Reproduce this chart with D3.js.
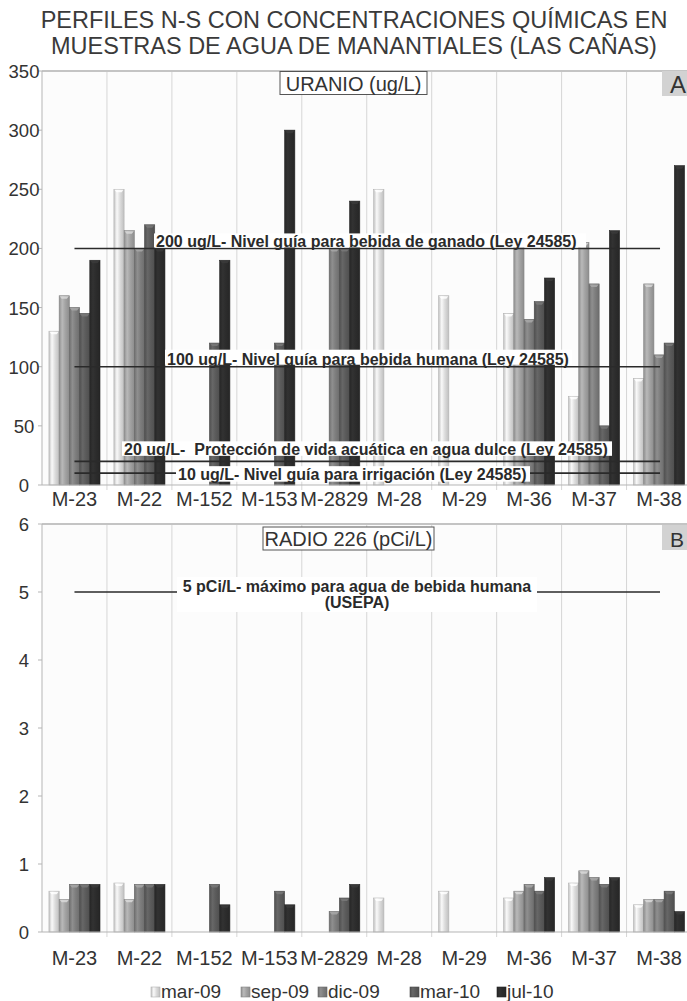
<!DOCTYPE html>
<html>
<head>
<meta charset="utf-8">
<script src="https://cdn.jsdelivr.net/npm/d3@7"></script>
<style>
  body { margin: 0; background: #fff; }
  svg { display: block; font-family: "Liberation Sans", Arial, sans-serif; }
  text { white-space: pre; }
</style>
</head>
<body>
<div id="container"></div>
<script>
/* DATA */
const categories = ["M-23", "M-22", "M-152", "M-153", "M-2829", "M-28", "M-29", "M-36", "M-37", "M-38"];
const seriesNames = ["mar-09", "sep-09", "dic-09", "mar-10", "jul-10"];

// Uranio (ug/L)
const uranioMar09 = [130, 250, null, null, null, 250, 160, 145, 75, 90];
const uranioSep09 = [160, 215, null, null, null, null, null, 205, 205, 170];
const uranioDic09 = [150, 200, null, null, 200, null, null, 140, 170, 110];
const uranioMar10 = [145, 220, 120, 120, 200, null, null, 155, 50, 120];
const uranioJul10 = [190, 200, 190, 300, 240, null, null, 175, 215, 270];

// Radio 226 (pCi/L)
const radioMar09 = [0.6, 0.72, null, null, null, 0.5, 0.6, 0.5, 0.72, 0.4];
const radioSep09 = [0.48, 0.48, null, null, null, null, null, 0.6, 0.9, 0.48];
const radioDic09 = [0.7, 0.7, null, null, 0.3, null, null, 0.7, 0.8, 0.48];
const radioMar10 = [0.7, 0.7, 0.7, 0.6, 0.5, null, null, 0.6, 0.7, 0.6];
const radioJul10 = [0.7, 0.7, 0.4, 0.4, 0.7, null, null, 0.8, 0.8, 0.3];

const uranioTicks = [0, 50, 100, 150, 200, 250, 300, 350];
const radioTicks = [0, 1, 2, 3, 4, 5, 6];

const uranioGuides = [200, 100, 20, 10];
const uranioGuideLabels = [
  "200 ug/L- Nivel guía para bebida de ganado (Ley 24585)",
  "100 ug/L- Nivel guía para bebida humana (Ley 24585)",
  "20 ug/L-  Protección de vida acuática en agua dulce (Ley 24585)",
  "10 ug/L- Nivel guía para irrigación (Ley 24585)"
];
const radioGuides = [5];
const radioGuideLabels = [["5 pCi/L- máximo para agua de bebida humana", "(USEPA)"]];

/* CONSTANTS AND GLOBALS */
const width = 687;
const height = 1001;
const colors = ["#dcdcdc", "#a3a3a3", "#7e7e7e", "#5b5b5b", "#2c2c2c"];

// white label boxes behind the guide texts (offsets from the guide line)
const uranioLabelLayout = [
  { x0: 154, x1: 586, tx: 156, top: -15, h: 14, base: -1.5 },
  { x0: 165, x1: 572, tx: 167, top: -17, h: 15, base: -2 },
  { x0: 122, x1: 612, tx: 124, top: -20, h: 14.5, base: -6.5 },
  { x0: 176, x1: 530, tx: 178, top: -7, h: 15.5, base: 6.5 }
];
const legendX = [151, 241, 318, 410, 497];

const svg = d3.select("#container")
  .append("svg")
  .attr("width", width)
  .attr("height", height);

const defs = svg.append("defs");
colors.forEach((c, i) => {
  const g = defs.append("linearGradient")
    .attr("id", "grad" + i)
    .attr("x1", 0).attr("x2", 1).attr("y1", 0).attr("y2", 0);
  const base = d3.color(c);
  g.append("stop").attr("offset", "0%").attr("stop-color", base.darker(0.35));
  g.append("stop").attr("offset", "30%").attr("stop-color", base.brighter(0.35));
  g.append("stop").attr("offset", "60%").attr("stop-color", base);
  g.append("stop").attr("offset", "100%").attr("stop-color", base.darker(0.4));
});

/* TITLE */
const title = svg.append("g")
  .attr("font-size", 23.5)
  .attr("fill", "#3a3a3a")
  .attr("text-anchor", "middle");
title.append("text").attr("x", 354).attr("y", 28)
  .text("PERFILES N-S CON CONCENTRACIONES QUÍMICAS EN");
title.append("text").attr("x", 354).attr("y", 54)
  .text("MUESTRAS DE AGUA DE MANANTIALES (LAS CAÑAS)");

/* CHART BUILDER */
function drawChart(opts) {
  const { top, bottom, domainMax, ticks, seriesData, boxText, boxX, boxW, letter } = opts;

  const xScale = d3.scaleBand()
    .domain(categories)
    .range([42, 691.5]);

  const xSub = d3.scaleBand()
    .domain(seriesNames)
    .range([0, xScale.bandwidth()])
    .paddingOuter(0.68);

  const yScale = d3.scaleLinear()
    .domain([0, domainMax])
    .range([bottom, top]);

  const g = svg.append("g");

  // plot background
  g.append("rect")
    .attr("x", 42).attr("y", top)
    .attr("width", width - 42).attr("height", bottom - top)
    .attr("fill", "#fcfcfc");

  // category gridlines
  g.selectAll("line.grid")
    .data(categories.slice(1))
    .join("line")
    .attr("class", "grid")
    .attr("x1", d => xScale(d)).attr("x2", d => xScale(d))
    .attr("y1", top).attr("y2", bottom + 5)
    .attr("stroke", "#d6d6d6")
    .attr("stroke-width", 1);

  // top border
  g.append("line")
    .attr("x1", 42).attr("x2", width)
    .attr("y1", top).attr("y2", top)
    .attr("stroke", "#c4c4c4").attr("stroke-width", 2);

  // bars
  const flat = [];
  categories.forEach((c, ci) => {
    seriesNames.forEach((s, si) => {
      const v = seriesData[si][ci];
      if (v != null) flat.push({ cat: c, series: s, si, value: v });
    });
  });

  const bars = g.selectAll("g.bar")
    .data(flat)
    .join("g")
    .attr("class", "bar");

  bars.append("rect")
    .attr("x", d => xScale(d.cat) + xSub(d.series))
    .attr("y", d => yScale(d.value))
    .attr("width", xSub.bandwidth())
    .attr("height", d => yScale(0) - yScale(d.value))
    .attr("fill", d => `url(#grad${d.si})`)
    .attr("stroke", d => d3.color(colors[d.si]).darker(0.6))
    .attr("stroke-width", 0.6);

  // bevel on top of each bar
  bars.append("path")
    .attr("d", d => {
      const x0 = xScale(d.cat) + xSub(d.series);
      const w = xSub.bandwidth();
      const y0 = yScale(d.value);
      return `M${x0 + 0.5},${y0 + 0.5}L${x0 + w - 0.5},${y0 + 0.5}L${x0 + w - 2.5},${y0 + 3}L${x0 + 2.5},${y0 + 3}Z`;
    })
    .attr("fill", d => d3.color(colors[d.si]).brighter(0.8))
    .attr("opacity", 0.85);

  // y axis
  const yAxis = g.append("g");
  yAxis.append("line")
    .attr("x1", 42).attr("x2", 42)
    .attr("y1", top).attr("y2", bottom)
    .attr("stroke", "#b5b5b5");
  yAxis.selectAll("line.tick")
    .data(ticks)
    .join("line")
    .attr("class", "tick")
    .attr("x1", 38).attr("x2", 42)
    .attr("y1", d => yScale(d)).attr("y2", d => yScale(d))
    .attr("stroke", "#b5b5b5");
  yAxis.selectAll("text")
    .data(ticks)
    .join("text")
    .attr("x", 24)
    .attr("y", d => yScale(d) + 7)
    .attr("text-anchor", "middle")
    .attr("font-size", 18.5)
    .attr("fill", "#333")
    .text(d => d);

  // x axis
  const xAxis = g.append("g");
  xAxis.append("line")
    .attr("x1", 42).attr("x2", width)
    .attr("y1", bottom).attr("y2", bottom)
    .attr("stroke", "#b5b5b5");
  xAxis.selectAll("text")
    .data(categories)
    .join("text")
    .attr("x", d => xScale(d) + xScale.bandwidth() / 2)
    .attr("y", bottom + opts.xLabelOffset)
    .attr("text-anchor", "middle")
    .attr("font-size", 20)
    .attr("fill", "#333")
    .text(d => d);

  // title box
  g.append("rect")
    .attr("x", boxX).attr("y", top + opts.boxTop)
    .attr("width", boxW).attr("height", 23)
    .attr("fill", "#fff")
    .attr("stroke", "#555").attr("stroke-width", 1);
  g.append("text")
    .attr("x", boxX + boxW / 2).attr("y", top + opts.boxTop + 19)
    .attr("text-anchor", "middle")
    .attr("font-size", 20)
    .attr("fill", "#333")
    .text(boxText);

  // panel letter
  g.append("rect")
    .attr("x", 662).attr("y", top + opts.letterTop)
    .attr("width", 30).attr("height", 25)
    .attr("fill", "#d2d2d2");
  g.append("text")
    .attr("x", 670).attr("y", top + opts.letterTop + 22)
    .attr("font-size", opts.letterSize)
    .attr("fill", "#333")
    .text(letter);

  return { xScale, yScale, g };
}

/* URANIO */
const chartA = drawChart({
  top: 71, bottom: 485, domainMax: 350, ticks: uranioTicks,
  seriesData: [uranioMar09, uranioSep09, uranioDic09, uranioMar10, uranioJul10],
  boxText: "URANIO (ug/L)", boxX: 280, boxW: 147, boxTop: 0.5,
  letter: "A", letterTop: 0, letterSize: 24, xLabelOffset: 21
});

const xLineStart = chartA.xScale(categories[0]) + chartA.xScale.bandwidth() / 2;
const xLineEnd = chartA.xScale(categories[categories.length - 1]) + chartA.xScale.bandwidth() / 2 + 1;

uranioGuides.forEach((v, i) => {
  const y = chartA.yScale(v);
  const L = uranioLabelLayout[i];
  chartA.g.append("line")
    .attr("x1", xLineStart).attr("x2", xLineEnd)
    .attr("y1", y).attr("y2", y)
    .attr("stroke", "#2a2a2a").attr("stroke-width", 1.6);
  chartA.g.append("rect")
    .attr("x", L.x0).attr("y", y + L.top)
    .attr("width", L.x1 - L.x0).attr("height", L.h)
    .attr("fill", "#fff");
  chartA.g.append("text")
    .attr("x", L.tx).attr("y", y + L.base)
    .attr("font-size", 16)
    .attr("font-weight", "bold")
    .attr("fill", "#2a2a2a")
    .text(uranioGuideLabels[i]);
});

/* RADIO 226 */
const chartB = drawChart({
  top: 524, bottom: 932, domainMax: 6, ticks: radioTicks,
  seriesData: [radioMar09, radioSep09, radioDic09, radioMar10, radioJul10],
  boxText: "RADIO 226 (pCi/L)", boxX: 263, boxW: 171, boxTop: 3,
  letter: "B", letterTop: 1, letterSize: 21, xLabelOffset: 33
});

radioGuides.forEach((v, i) => {
  const y = chartB.yScale(v);
  chartB.g.append("line")
    .attr("x1", xLineStart).attr("x2", xLineEnd)
    .attr("y1", y).attr("y2", y)
    .attr("stroke", "#2a2a2a").attr("stroke-width", 1.6);
  chartB.g.append("rect")
    .attr("x", 177).attr("y", y - 15)
    .attr("width", 360).attr("height", 35)
    .attr("fill", "#fff");
  const t = chartB.g.append("text")
    .attr("text-anchor", "middle")
    .attr("font-size", 16)
    .attr("font-weight", "bold")
    .attr("fill", "#2a2a2a");
  radioGuideLabels[i].forEach((line, li) => {
    t.append("tspan")
      .attr("x", 357)
      .attr("y", y + li * 16)
      .text(line);
  });
});

/* LEGEND */
const legend = svg.append("g");
seriesNames.forEach((s, i) => {
  const x = legendX[i];
  legend.append("rect")
    .attr("x", x).attr("y", 987)
    .attr("width", 9).attr("height", 10)
    .attr("fill", `url(#grad${i})`)
    .attr("stroke", d3.color(colors[i]).darker(0.6))
    .attr("stroke-width", 0.6);
  legend.append("text")
    .attr("x", x + 10).attr("y", 998)
    .attr("font-size", 19)
    .attr("fill", "#333")
    .text(s);
});
</script>
</body>
</html>
